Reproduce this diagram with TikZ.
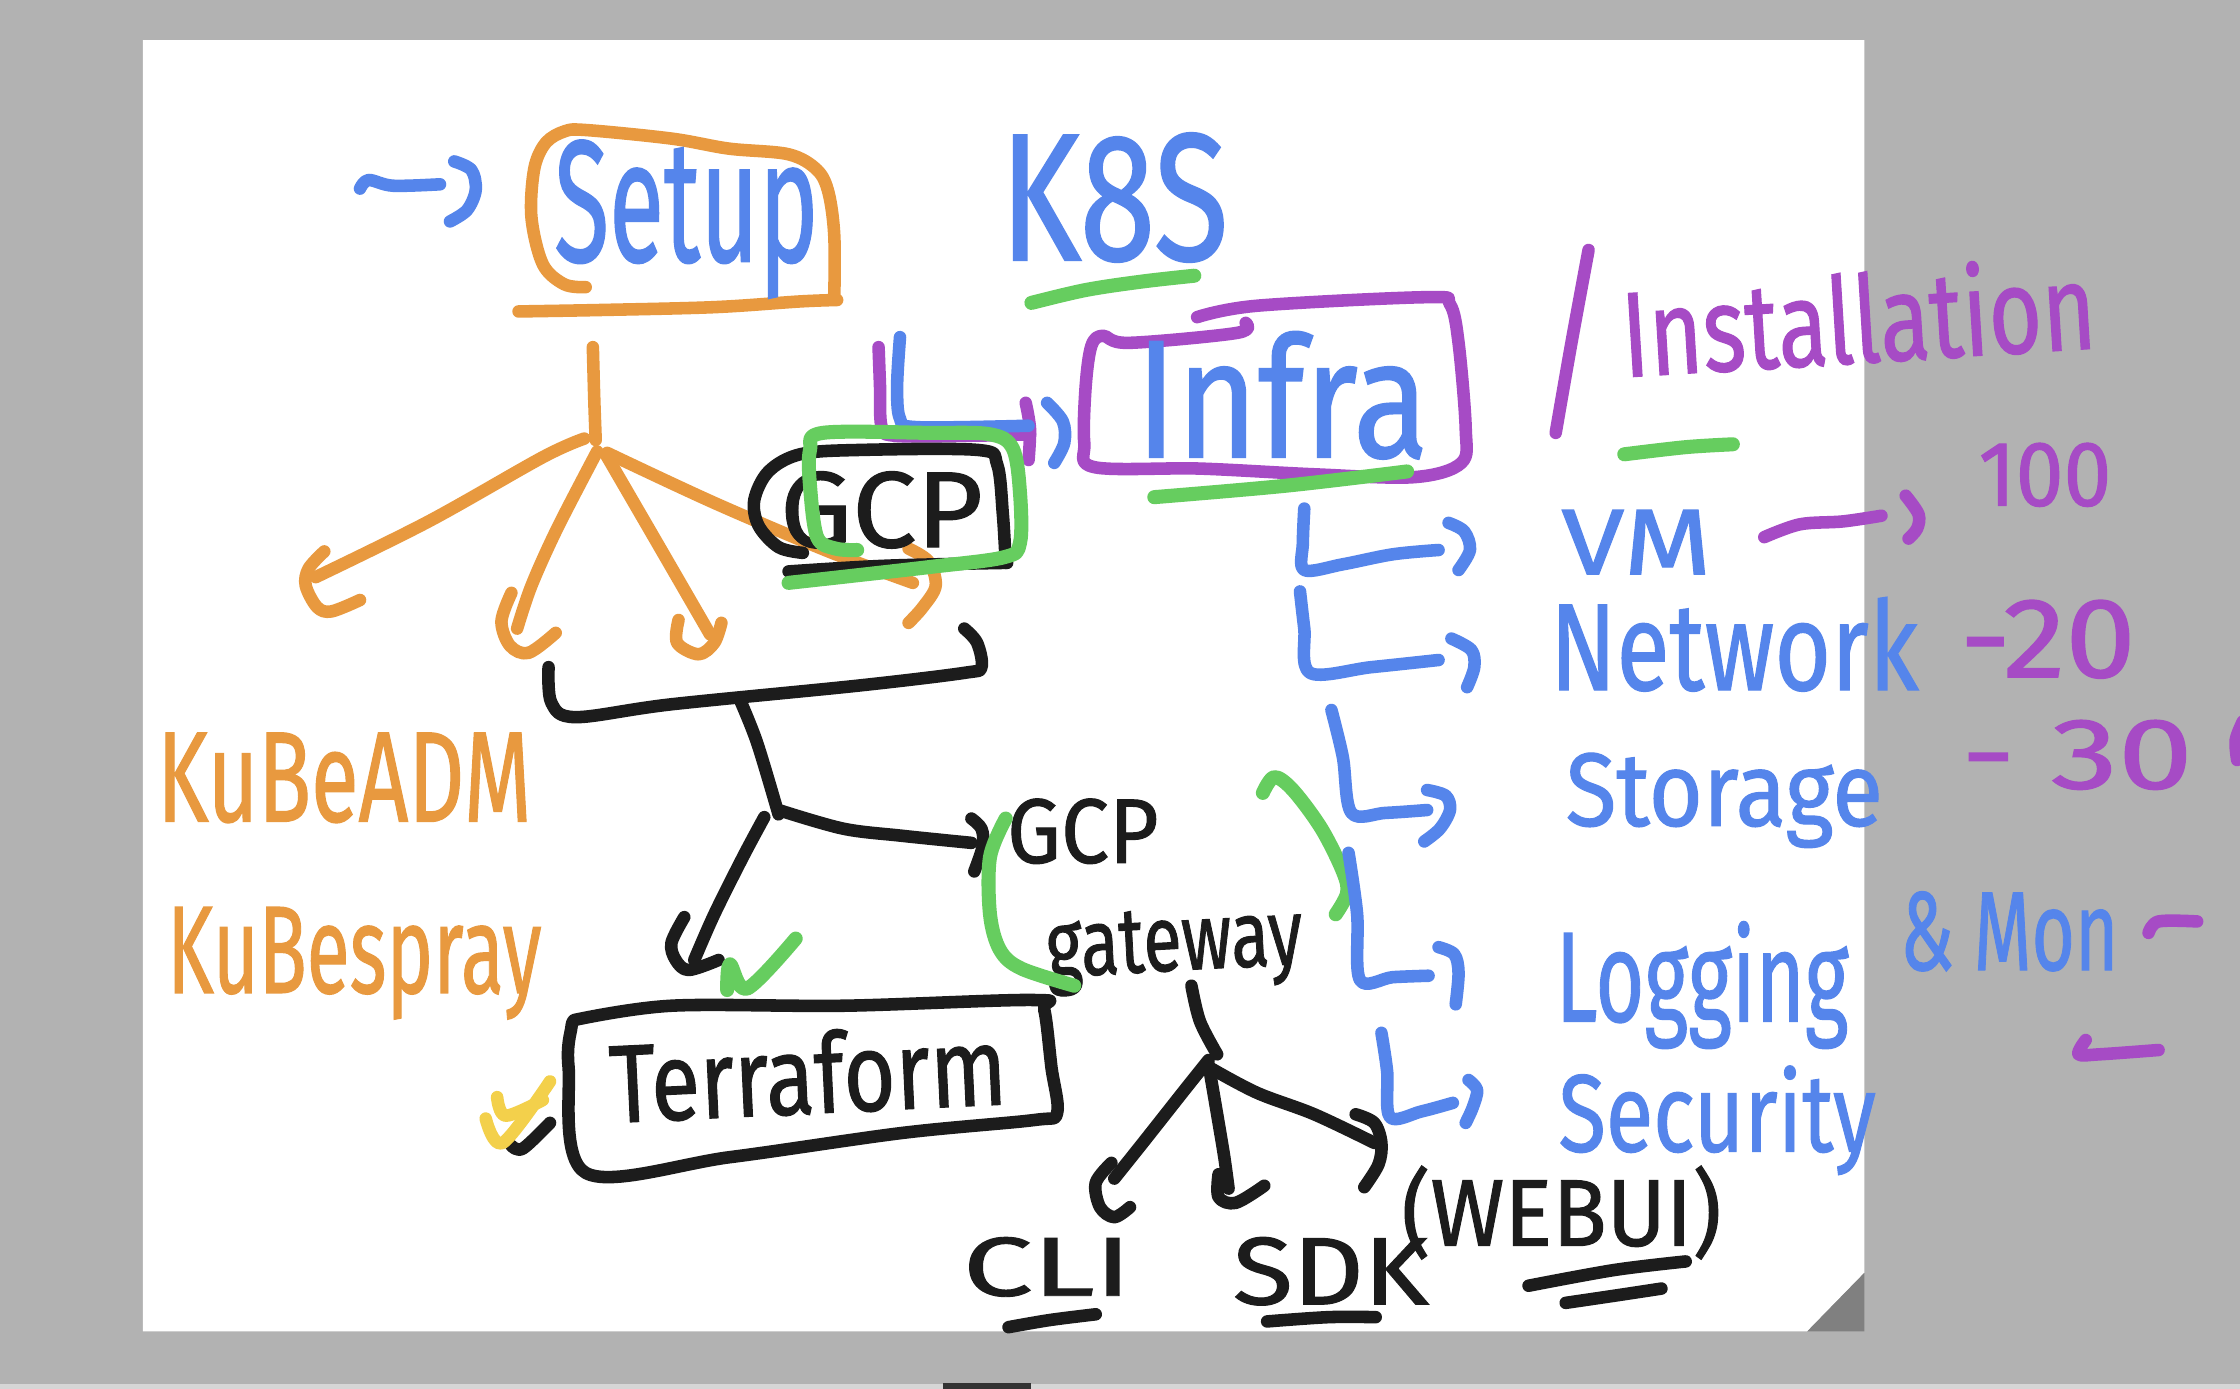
\documentclass[tikz,border=0pt]{standalone}
\usepackage{fontspec}
\setmainfont[FakeBold=1.1]{Fira Sans}
\usepackage{graphicx}
\newlength\pxu
\setlength\pxu{0.01cm}
\newcommand\hw[3]{\resizebox{#1\pxu}{#2\pxu}{#3}}
\definecolor{cOr}{HTML}{E8993F}
\definecolor{cBl}{HTML}{5585EB}
\definecolor{cGr}{HTML}{66CD5F}
\definecolor{cPu}{HTML}{A64BC5}
\definecolor{cBk}{HTML}{1C1C1C}
\definecolor{cYe}{HTML}{F3D04B}
\definecolor{cGray}{HTML}{B2B2B2}
\definecolor{cFold}{HTML}{808080}
\definecolor{cLight}{HTML}{D6D6D6}
\definecolor{cBar}{HTML}{333333}
\tikzset{
  pen/.style={line width=2.5pt, line cap=round, line join=round},
  or/.style={pen, draw=cOr},
  bl/.style={pen, draw=cBl},
  gr/.style={pen, draw=cGr, line width=2.8pt},
  pu/.style={pen, draw=cPu},
  bk/.style={pen, draw=cBk},
  ye/.style={pen, draw=cYe},
  txt/.style={inner sep=0pt, outer sep=0pt, anchor=base west},
  sm/.style={smooth, tension=0.55}
}
\begin{document}
\begin{tikzpicture}[x=0.01cm, y=-0.01cm]
\useasboundingbox (0,0) rectangle (1568,972);
\clip (0,0) rectangle (1568,972);
% background
\fill[cGray] (0,0) rectangle (1568,972);
\fill[white] (100,28) -- (1305,28) -- (1305,891) -- (1265,932) -- (100,932) -- cycle;
\fill[cFold] (1265,932) -- (1305,891) -- (1305,932) -- cycle;
\fill[cLight] (0,969) rectangle (1568,972);
\fill[cBar] (660,968) rectangle (722,972);

% ---- Setup
\draw[bl] plot[sm] coordinates {(252,132)(258,126)(275,130)(308,129)};
\draw[bl] plot[sm] coordinates {(318,113)(330,119)(333,133)(327,147)(315,155)};
\draw[or] plot[sm] coordinates {(410,201)(395,199)(380,185)(372,152)(374,118)(382,100)(395,92)(410,91)(470,97)(510,104)(552,108)(572,119)(580,135)(584,165)(584,209)};
\draw[or] plot[sm] coordinates {(363,218)(420,217)(500,215)(560,211)(586,210)};
\node[txt, text=cBl] (setup) at (388,183) {\hw{185}{85}{Setup}};

% ---- K8S
\node[txt, text=cBl] (k8s) at (700,182) {\hw{160}{89}{K8S}};
\draw[gr] plot[sm] coordinates {(722,212)(760,203)(800,197)(836,193)};

% ---- arrows into Infra
\draw[pu] plot[sm] coordinates {(615,243)(616,270)(617,298)(626,305)(680,305)(721,304)};
\draw[pu] plot[sm] coordinates {(718,282)(721,300)(720,322)};
\draw[bl] plot[sm] coordinates {(630,236)(628,270)(630,293)(642,299)(720,298)};
\draw[bl] plot[sm] coordinates {(733,282)(744,295)(745,310)(738,324)};

% ---- Infra box
\draw[pu] plot[sm] coordinates {(838,222)(880,214)(1000,208)(1015,213)(1021,240)(1026,300)(1023,324)(990,334)(920,332)(840,328)(766,327)(759,310)(760,270)(764,242)(772,235)(790,240)(866,233)(872,226)};
\node[txt, text=cBl] (infra) at (795,320) {\hw{205}{88}{Infra}};
\draw[gr] plot[sm] coordinates {(808,348)(900,340)(985,330)};

% ---- Installation
\draw[pu] plot[sm] coordinates {(1112,175)(1100,240)(1089,303)};
\node[txt, text=cPu, rotate=3.5] (inst) at (1137,264) {\hw{332}{66}{Installation}};
\draw[gr] plot[sm] coordinates {(1137,318)(1180,313)(1213,311)};

% ---- orange tree
\draw[or] plot[sm] coordinates {(415,243)(416,280)(417,308)};
\draw[or] plot[sm] coordinates {(409,307)(380,320)(300,365)(221,404)};
\draw[or] plot[sm] coordinates {(227,386)(216,398)(214,410)(222,425)(232,428)(252,420)};
\draw[or] plot[sm] coordinates {(418,316)(390,370)(372,410)(362,440)};
\draw[or] plot[sm] coordinates {(358,415)(351,435)(357,452)(370,457)(389,443)};
\draw[or] plot[sm] coordinates {(424,318)(460,380)(497,444)};
\draw[or] plot[sm] coordinates {(475,434)(474,450)(489,458)(500,450)(505,436)};
\draw[or] plot[sm] coordinates {(425,317)(500,352)(580,386)(639,408)};
\draw[or] plot[sm] coordinates {(636,384)(650,393)(655,410)(646,425)(636,436)};

% ---- GCP box
\draw[bk] plot[sm] coordinates {(562,387)(545,383)(531,368)(528,350)(538,330)(560,318)(600,315)(685,315)(698,325)(702,360)(704,394)};
\draw[bk] plot[sm] coordinates {(552,400)(620,396)(705,394)};
\node[txt, text=cBk] (gcp) at (546,383) {\hw{142}{53}{GCP}};
\draw[gr] plot[sm] coordinates {(600,385)(585,384)(572,376)(567,340)(567,315)(576,303)(650,303)(693,304)(709,314)(714,345)(714,380)(703,390)(650,397)(552,408)};

% ---- black bracket and branches
\draw[bk] plot[sm] coordinates {(384,467)(386,492)(403,502)(470,493)(600,480)(675,471)(687,467)(684,450)(675,440)};
\draw[bk] plot[sm] coordinates {(518,490)(530,520)(545,570)};
\draw[bk] plot[sm] coordinates {(545,567)(590,580)(631,585)(680,590)};
\draw[bk] plot[sm] coordinates {(680,573)(687,580)(688,592)(682,610)};
\draw[bk] plot[sm] coordinates {(535,572)(520,600)(500,640)(486,672)};
\draw[bk] plot[sm] coordinates {(479,642)(470,660)(473,672)(482,679)(503,672)};
\draw[gr] plot[sm] coordinates {(509,693)(511,675)(523,692)(557,657)};

% ---- GCP gateway
\node[txt, text=cBk] (gcpgw) at (705,604) {\hw{106}{45}{GCP}};
\node[txt, text=cBk, rotate=3] (gateway) at (733,684) {\hw{180}{43}{gateway}};
\draw[gr] plot[sm] coordinates {(704,573)(693,600)(693,640)(700,665)(715,678)(752,690)};
\draw[gr] plot[sm] coordinates {(884,555)(892,544)(905,553)(925,580)(940,610)(943,625)(935,640)};

% ---- tree under gateway
\draw[bk] plot[sm] coordinates {(834,690)(840,715)(852,738)};
\draw[bk] plot[sm] coordinates {(846,742)(830,762)(800,800)(780,825)};
\draw[bk] plot[sm] coordinates {(778,814)(767,828)(770,845)(780,852)(791,845)};
\draw[bk] plot[sm] coordinates {(846,745)(852,780)(857,810)(860,832)};
\draw[bk] plot[sm] coordinates {(853,822)(853,838)(865,842)(885,830)};
\draw[bk] plot[sm] coordinates {(848,748)(880,765)(920,780)(962,800)};
\draw[bk] plot[sm] coordinates {(949,780)(962,786)(967,800)(965,815)(955,831)};

\node[txt, text=cBk] (cli) at (674,907) {\hw{118}{41}{CLI}};
\draw[bk] plot[sm] coordinates {(706,929)(735,924)(767,920)};
\node[txt, text=cBk] (sdk) at (863,913) {\hw{137}{47}{SDK}};
\draw[bk] plot[sm] coordinates {(887,925)(930,922)(963,922)};
\node[txt, text=cBk] (webui) at (981,872) {\hw{224}{56}{(WEBUI)}};
\draw[bk] plot[sm] coordinates {(1070,900)(1130,889)(1180,883)};
\draw[bk] plot[sm] coordinates {(1096,912)(1130,907)(1163,902)};

% ---- Terraform
\draw[bk] plot[sm] coordinates {(402,714)(470,704)(591,704)(724,700)(731,707)(736,747)(740,779)(724,784)(632,793)(511,810)(410,821)(398,747)(400,719)(402,714)};
\node[txt, text=cBk, rotate=2.7] (terraform) at (428,786) {\hw{278}{58}{Terraform}};
\draw[bk] plot[sm] coordinates {(358,802)(366,804)(385,786)};
\draw[ye] plot[sm] coordinates {(340,783)(352,800)(385,757)};
\draw[ye] plot[sm] coordinates {(348,768)(354,781)(380,770)};

% ---- KubeADM / Kubespray
\node[txt, text=cOr] (kubeadm) at (110,575) {\hw{262}{62}{KuBeADM}};
\node[txt, text=cOr] (kubespray) at (117,695) {\hw{262}{60}{KuBespray}};

% ---- list
\draw[bl] plot[sm] coordinates {(913,356)(912,380)(913,399)(940,395)(975,388)(1007,385)};
\draw[bl] plot[sm] coordinates {(1014,366)(1025,372)(1029,385)(1021,399)};
\node[txt, text=cBl] (vm) at (1093,402) {\hw{105}{45}{VM}};
\draw[pu] plot[sm] coordinates {(1235,376)(1260,367)(1290,365)(1317,361)};
\draw[pu] plot[sm] coordinates {(1334,347)(1343,360)(1342,370)(1336,377)};
\node[txt, text=cPu] (n100) at (1385,354) {\hw{93}{44}{100}};

\draw[bl] plot[sm] coordinates {(910,414)(913,440)(917,471)(960,467)(1007,462)};
\draw[bl] plot[sm] coordinates {(1016,447)(1030,455)(1032,467)(1027,481)};
\node[txt, text=cBl] (network) at (1085,483) {\hw{258}{65}{Network}};
\node[txt, text=cPu] (n20) at (1372,474) {\hw{123}{54}{-20}};

\draw[bl] plot[sm] coordinates {(932,497)(940,530)(946,569)(970,569)(999,567)};
\draw[bl] plot[sm] coordinates {(999,553)(1012,557)(1015,567)(1008,580)(997,589)};
\node[txt, text=cBl] (storage) at (1096,578) {\hw{222}{51}{Storage}};
\node[txt, text=cPu] (n30) at (1373,552) {\hw{162}{48}{- 30}};
\draw[pu] plot[sm] coordinates {(1570,505)(1565,518)(1566,532)};

\draw[bl] plot[sm] coordinates {(944,597)(950,640)(952,686)(975,684)(1000,683)};
\draw[bl] plot[sm] coordinates {(1007,663)(1018,668)(1021,681)(1019,703)};
\node[txt, text=cBl] (logging) at (1089,715) {\hw{205}{70}{Logging}};
\node[txt, text=cBl] (mon) at (1330,679) {\hw{153}{55}{\& Mon}};
\draw[pu] plot[sm] coordinates {(1504,653)(1511,645)(1538,645)};
\draw[pu] plot[sm] coordinates {(1460,728)(1455,738)(1470,738)(1511,735)};

\draw[bl] plot[sm] coordinates {(967,723)(971,750)(973,782)(995,778)(1017,772)};
\draw[bl] plot[sm] coordinates {(1028,756)(1034,763)(1031,775)(1026,786)};
\node[txt, text=cBl] (security) at (1091,806) {\hw{222}{60}{Security}};
\end{tikzpicture}
\end{document}
